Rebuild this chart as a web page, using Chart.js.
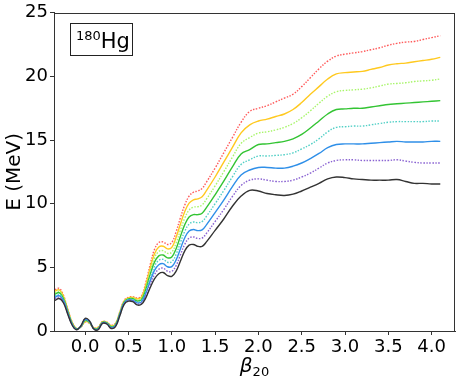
<!DOCTYPE html>
<html>
<head>
<meta charset="utf-8">
<script src="https://cdn.jsdelivr.net/npm/chart.js@4.4.1/dist/chart.umd.min.js"></script>
<style>
html,body{margin:0;padding:0;background:#fff;}
canvas{display:block;}
</style>
</head>
<body>
<canvas id="c" width="463" height="381"></canvas>
<script>
const beta = [-0.35,-0.3,-0.25,-0.2,-0.15,-0.1,-0.05,0.0,0.05,0.1,0.15,0.2,0.25,0.3,0.35,0.4,0.45,0.5,0.55,0.6,0.65,0.7,0.75,0.8,0.85,0.9,0.95,1.0,1.05,1.1,1.15,1.2,1.25,1.3,1.35,1.4,1.5,1.6,1.7,1.8,1.9,2.0,2.1,2.2,2.3,2.4,2.5,2.6,2.7,2.8,2.9,3.0,3.1,3.2,3.3,3.4,3.5,3.6,3.7,3.8,3.9,4.0,4.1];

const eBlack = [2.40,2.55,2.20,1.30,0.45,0.10,0.40,1.00,0.80,0.15,0.10,0.60,0.55,0.20,0.35,1.20,2.10,2.35,2.30,2.05,2.10,2.60,3.40,4.10,4.50,4.60,4.35,4.30,4.70,5.50,6.30,6.75,6.80,6.65,6.65,7.00,7.90,8.80,9.80,10.60,11.05,11.0,10.8,10.7,10.65,10.75,11.0,11.3,11.6,11.95,12.1,12.05,11.95,11.9,11.85,11.85,11.85,11.9,11.75,11.6,11.6,11.55,11.55];
const ePurple = [2.52,2.66,2.29,1.36,0.49,0.11,0.39,0.96,0.77,0.16,0.13,0.62,0.57,0.24,0.39,1.24,2.14,2.39,2.36,2.13,2.19,2.77,3.66,4.43,4.85,4.94,4.70,4.68,5.14,5.99,6.81,7.30,7.39,7.27,7.30,7.67,8.60,9.54,10.57,11.43,11.85,11.95,11.85,11.75,11.75,11.85,12.1,12.4,12.8,13.2,13.4,13.45,13.45,13.4,13.4,13.4,13.4,13.45,13.35,13.25,13.2,13.2,13.2];
const eBlue = [2.64,2.78,2.37,1.41,0.52,0.13,0.37,0.91,0.74,0.18,0.16,0.64,0.59,0.27,0.42,1.29,2.19,2.44,2.41,2.21,2.29,2.94,3.91,4.76,5.20,5.29,5.05,5.06,5.59,6.47,7.33,7.85,7.97,7.89,7.95,8.34,9.30,10.29,11.34,12.26,12.65,12.85,12.85,12.8,12.8,12.95,13.2,13.55,13.95,14.4,14.65,14.7,14.7,14.7,14.75,14.8,14.85,14.9,14.85,14.85,14.85,14.9,14.9];
const eCyan = [2.76,2.89,2.46,1.47,0.56,0.14,0.36,0.87,0.71,0.19,0.19,0.66,0.61,0.31,0.46,1.33,2.23,2.48,2.47,2.29,2.38,3.11,4.17,5.09,5.55,5.63,5.40,5.44,6.03,6.96,7.84,8.40,8.56,8.51,8.60,9.01,10.00,11.03,12.11,13.09,13.45,13.75,13.75,13.8,13.85,14.0,14.3,14.65,15.1,15.65,16.0,16.05,16.1,16.1,16.2,16.3,16.4,16.45,16.45,16.45,16.45,16.5,16.5];
const eGreen = [2.89,3.01,2.54,1.53,0.59,0.16,0.34,0.83,0.69,0.21,0.21,0.69,0.64,0.34,0.49,1.37,2.27,2.52,2.53,2.36,2.47,3.29,4.43,5.41,5.90,5.97,5.75,5.81,6.47,7.44,8.36,8.95,9.14,9.14,9.25,9.69,10.70,11.77,12.89,13.91,14.25,14.65,14.7,14.8,14.9,15.1,15.45,15.95,16.5,17.05,17.4,17.45,17.5,17.5,17.6,17.7,17.8,17.85,17.9,17.95,18.0,18.05,18.1];
const eLightGreen = [3.01,3.12,2.63,1.59,0.63,0.17,0.33,0.79,0.66,0.22,0.24,0.71,0.66,0.38,0.53,1.41,2.31,2.56,2.59,2.44,2.56,3.46,4.69,5.74,6.25,6.31,6.10,6.19,6.91,7.93,8.87,9.50,9.73,9.76,9.90,10.36,11.40,12.51,13.66,14.74,15.2,15.55,15.65,15.8,16.0,16.3,16.75,17.3,17.9,18.45,18.8,18.9,18.95,19.0,19.1,19.25,19.4,19.45,19.5,19.6,19.65,19.7,19.8];
const eGold = [3.13,3.24,2.71,1.64,0.66,0.19,0.31,0.74,0.63,0.24,0.27,0.73,0.68,0.41,0.56,1.46,2.36,2.61,2.64,2.52,2.66,3.63,4.94,6.07,6.60,6.66,6.45,6.57,7.36,8.41,9.39,10.05,10.31,10.38,10.55,11.03,12.10,13.26,14.43,15.57,16.2,16.5,16.65,16.85,17.05,17.4,17.95,18.6,19.2,19.8,20.2,20.3,20.35,20.4,20.55,20.7,20.9,21.0,21.05,21.15,21.25,21.35,21.5];
const eRed = [3.25,3.35,2.80,1.70,0.70,0.20,0.30,0.70,0.60,0.25,0.30,0.75,0.70,0.45,0.60,1.50,2.40,2.65,2.70,2.60,2.75,3.80,5.20,6.40,6.95,7.00,6.80,6.95,7.80,8.90,9.90,10.60,10.90,11.00,11.20,11.70,12.80,14.00,15.20,16.40,17.25,17.5,17.7,18.0,18.3,18.6,19.2,19.9,20.6,21.2,21.6,21.75,21.85,21.95,22.1,22.25,22.45,22.6,22.7,22.75,22.9,23.05,23.2];

const xTicks = [0.0,0.5,1.0,1.5,2.0,2.5,3.0,3.5,4.0];
const yTicks = [0,5,10,15,20,25];

const seriesDefs = [
  {v: eBlack, c: '#333333', dash: []},
  {v: ePurple, c: '#8a63d2', dash: [1.5,1.5]},
  {v: eBlue, c: '#2f8fe8', dash: []},
  {v: eCyan, c: '#52d0c6', dash: [1.5,1.5]},
  {v: eGreen, c: '#33c433', dash: []},
  {v: eLightGreen, c: '#a8f56a', dash: [1.5,1.5]},
  {v: eGold, c: '#ffc91f', dash: []},
  {v: eRed, c: '#ff5a5a', dash: [1.5,1.5]}
];

const datasets = seriesDefs.map(s => ({
  data: beta.map((b, i) => ({x: b, y: s.v[i]})),
  borderColor: s.c,
  borderWidth: 1.4,
  borderDash: s.dash,
  pointRadius: 0,
  fill: false,
  tension: 0.4
}));

const FONT = 'DejaVu Sans';

const framePlugin = {
  id: 'frame',
  afterDraw(chart) {
    const ctx = chart.ctx;
    const a = chart.chartArea;
    ctx.save();
    ctx.strokeStyle = '#333';
    ctx.lineWidth = 1;
    ctx.strokeRect(Math.round(a.left) + 0.5, Math.round(a.top) + 0.5, Math.round(a.right - a.left) - 1, Math.round(a.bottom - a.top));
    // nucleus label box
    ctx.fillStyle = '#fff';
    ctx.fillRect(70, 23, 62, 32);
    ctx.strokeStyle = '#222';
    ctx.strokeRect(70.5, 23.5, 62, 32);
    ctx.fillStyle = '#000';
    ctx.textBaseline = 'alphabetic';
    ctx.textAlign = 'left';
    ctx.font = '13px ' + FONT;
    ctx.fillText('180', 76, 40);
    const w180 = ctx.measureText('180').width;
    ctx.font = '21px ' + FONT;
    ctx.fillText('Hg', 76 + w180, 48);
    // x title
    ctx.font = 'italic 20px ' + FONT;
    const wb = ctx.measureText('β').width;
    ctx.font = '13px ' + FONT;
    const w20 = ctx.measureText('20').width;
    const cx = (a.left + a.right) / 2;
    const sx = cx - (wb + w20) / 2;
    ctx.font = 'italic 20px ' + FONT;
    ctx.fillText('β', sx, 372);
    ctx.font = '13px ' + FONT;
    ctx.fillText('20', sx + wb, 376);
    // y title
    ctx.save();
    ctx.translate(20, (a.top + a.bottom) / 2);
    ctx.rotate(-Math.PI / 2);
    ctx.textAlign = 'center';
    ctx.font = '20px ' + FONT;
    ctx.fillText('E (MeV)', 0, 0);
    ctx.restore();
    ctx.restore();
  }
};

new Chart(document.getElementById('c'), {
  type: 'line',
  data: {datasets},
  options: {
    responsive: false,
    animation: false,
    events: [],
    layout: {padding: {top: 12, right: 8, left: 0, bottom: 0}},
    plugins: {legend: {display: false}, tooltip: {enabled: false}},
    scales: {
      x: {
        type: 'linear',
        min: -0.36,
        max: 4.27,
        afterBuildTicks(scale) { scale.ticks = xTicks.map(v => ({value: v})); },
        afterFit(scale) { scale.height = 50; },
        grid: {display: true, drawOnChartArea: false, drawTicks: true, tickLength: 4, color: '#333'},
        border: {display: true, color: '#333'},
        ticks: {
          font: {family: FONT, size: 18},
          color: '#000',
          padding: 2,
          maxRotation: 0,
          autoSkip: false,
          callback: v => Number(v).toFixed(1)
        }
      },
      y: {
        type: 'linear',
        min: 0,
        max: 25,
        afterBuildTicks(scale) { scale.ticks = yTicks.map(v => ({value: v})); },
        afterFit(scale) { scale.width = 54; },
        grid: {display: true, drawOnChartArea: false, drawTicks: true, tickLength: 4, color: '#333'},
        border: {display: true, color: '#333'},
        ticks: {
          font: {family: FONT, size: 18},
          color: '#000',
          padding: 2,
          callback: v => String(v)
        }
      }
    }
  },
  plugins: [framePlugin]
});
</script>
</body>
</html>
